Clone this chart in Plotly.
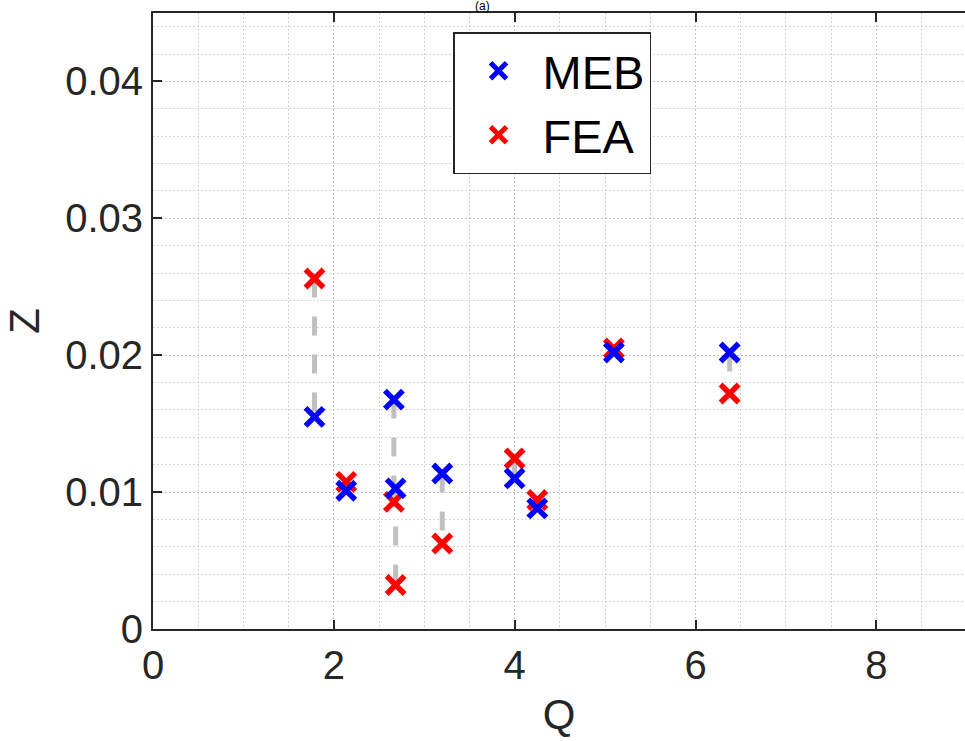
import plotly.graph_objects as go

# Measured configurations: load parameter Q and response Z from two methods
q_values = [1.786, 2.137, 2.664, 2.683, 3.199, 3.999, 4.250, 5.097, 6.377]
z_meb = [0.01550, 0.01010, 0.01676, 0.01027, 0.01136, 0.01100, 0.00881, 0.02020, 0.02020]
z_fea = [0.02560, 0.01075, 0.00929, 0.00321, 0.00625, 0.01246, 0.00942, 0.02049, 0.01720]

x_ticks = [0, 2, 4, 6, 8]
y_ticks = [0, 0.01, 0.02, 0.03, 0.04]
y_tick_text = ["0", "0.01", "0.02", "0.03", "0.04"]

FONT = "Liberation Sans, Arial, Helvetica, sans-serif"
AXIS_COLOR = "#262626"

# Vertical dashed connectors between paired results (drawn top to bottom)
conn_x, conn_y = [], []
for q, a, b in zip(q_values, z_meb, z_fea):
    conn_x += [q, q, None]
    conn_y += [max(a, b), min(a, b), None]

fig = go.Figure()

fig.add_trace(go.Scatter(
    x=conn_x, y=conn_y, mode="lines",
    line=dict(color="#c0c0c0", width=5, dash="19px,19px"),
    showlegend=False, hoverinfo="skip",
))

fig.add_trace(go.Scatter(
    x=q_values, y=z_fea, mode="markers", name="FEA",
    marker=dict(symbol="x-thin", size=18, color="#ff0000",
                line=dict(color="#ff0000", width=5.5)),
    legendrank=2,
))

fig.add_trace(go.Scatter(
    x=q_values, y=z_meb, mode="markers", name="MEB",
    marker=dict(symbol="x-thin", size=18, color="#0000ff",
                line=dict(color="#0000ff", width=5.5)),
    legendrank=1,
))

fig.update_layout(
    width=965, height=741,
    margin=dict(l=153, r=0, t=13, b=112),
    paper_bgcolor="white", plot_bgcolor="white",
    font=dict(family=FONT, size=40, color=AXIS_COLOR),
    legend=dict(
        x=0.3695, y=0.969, xanchor="left", yanchor="top",
        bgcolor="white", bordercolor=AXIS_COLOR, borderwidth=1.5,
        font=dict(family=FONT, size=47, color="black"),
        itemwidth=78, tracegroupgap=0,
    ),
    annotations=[dict(
        text="(a)", xref="paper", yref="paper", x=0.4064, y=1,
        xanchor="center", yanchor="bottom", yshift=-2, showarrow=False,
        font=dict(family=FONT, size=12, color="black"),
    )],
)

fig.update_xaxes(
    range=[0, 8.98], tickvals=x_ticks, ticktext=[str(v) for v in x_ticks],
    ticks="inside", ticklen=9, tickwidth=1.5, tickcolor=AXIS_COLOR,
    showline=True, linecolor=AXIS_COLOR, linewidth=2, mirror="ticks",
    showgrid=True, gridcolor="#c4c4c4", gridwidth=1, griddash="2px,2px",
    minor=dict(dtick=0.5, showgrid=True, gridcolor="#d6d6d6", gridwidth=1,
               griddash="2px,2px", ticks=""),
    zeroline=False,
    title=dict(text="Q", font=dict(size=42), standoff=14),
    tickfont=dict(size=40),
)

fig.update_yaxes(
    range=[0, 0.045], tickvals=y_ticks, ticktext=y_tick_text,
    ticks="inside", ticklen=9, tickwidth=1.5, tickcolor=AXIS_COLOR,
    showline=True, linecolor=AXIS_COLOR, linewidth=2, mirror=False,
    showgrid=True, gridcolor="#c4c4c4", gridwidth=1, griddash="2px,2px",
    minor=dict(dtick=0.002, showgrid=True, gridcolor="#d6d6d6", gridwidth=1,
               griddash="2px,2px", ticks=""),
    zeroline=False,
    title=dict(text="Z", font=dict(size=42), standoff=12),
    tickfont=dict(size=40),
)

fig.write_html("out.html")
